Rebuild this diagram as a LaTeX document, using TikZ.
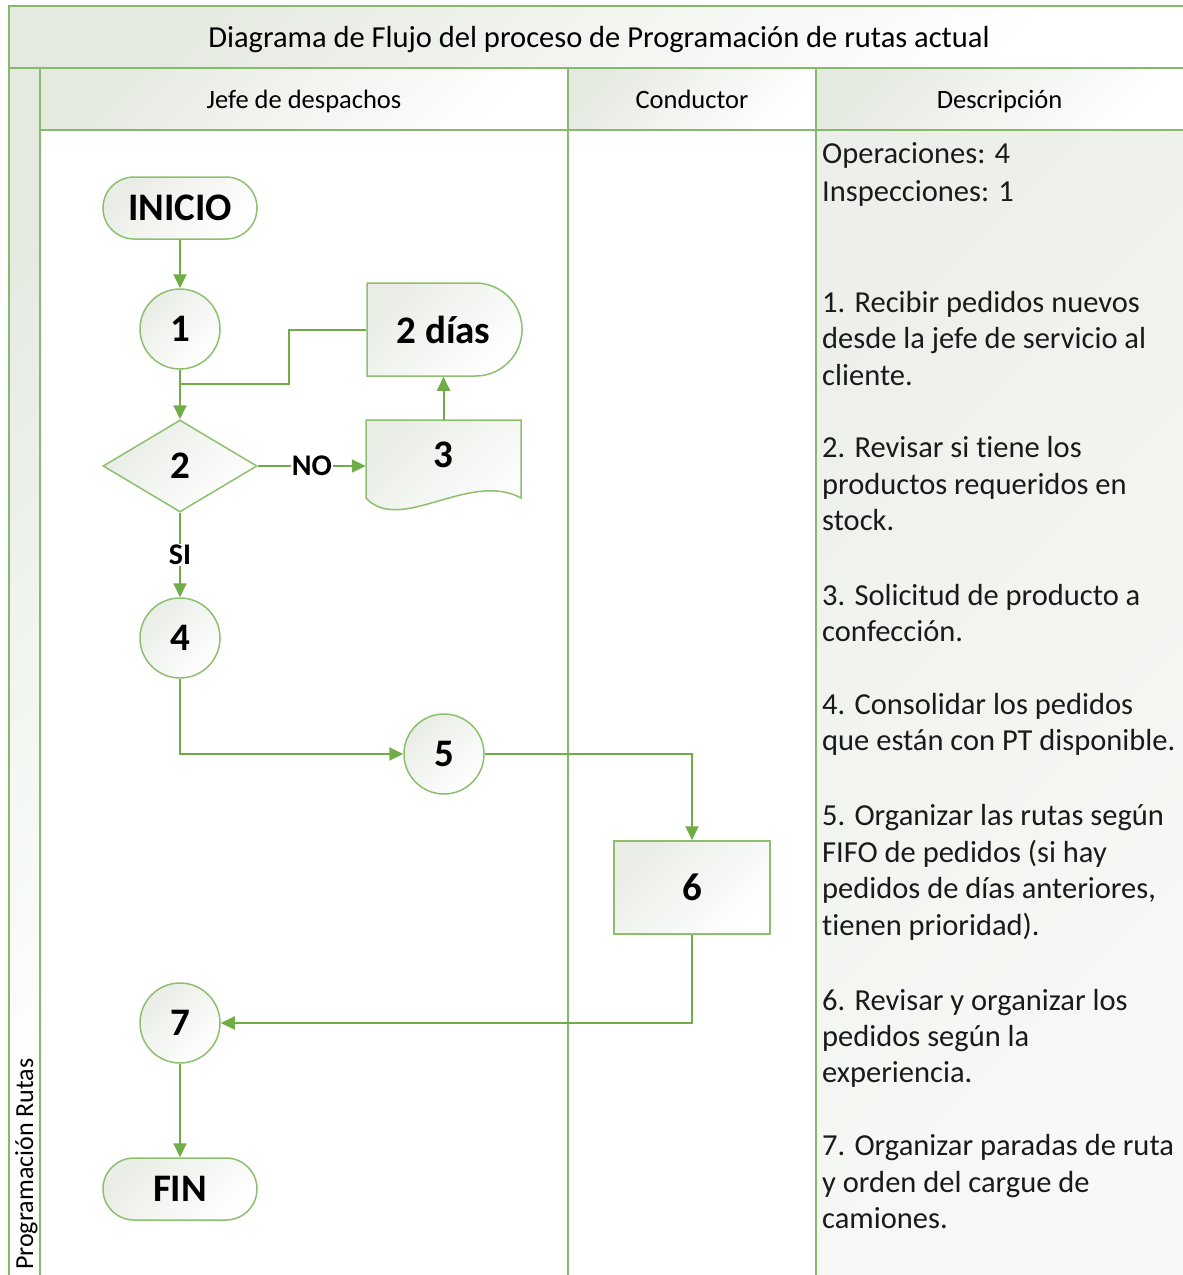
\documentclass[tikz,border=0pt]{standalone}
\usepackage{fontspec}
\setmainfont{Carlito}[Ligatures=NoCommon]
\usetikzlibrary{arrows.meta,shapes.geometric,shapes.misc}
\definecolor{laneline}{HTML}{86B96A}
\definecolor{conn}{HTML}{70AD47}
\definecolor{shp}{HTML}{8DC06E}
\definecolor{gfill}{HTML}{E5EAE1}
\definecolor{sfill}{HTML}{E9EDE6}
\definecolor{dfill}{HTML}{EDF0EA}
\definecolor{dtext}{HTML}{1A1A1A}
\begin{document}
\begin{tikzpicture}[x=1pt,y=-1pt,
  frame/.style={draw=laneline, line width=2pt},
  grad/.style={top color=gfill, bottom color=white, shading angle=45},
  shapebase/.style={draw=shp, line width=1.5pt, top color=sfill, bottom color=white, shading angle=45,
    font=\bfseries\fontsize{39}{42}\selectfont, text=black, inner sep=0pt},
  term/.style={shapebase, rounded rectangle, minimum width=154pt, minimum height=62pt},
  circ/.style={shapebase, circle, minimum size=80pt},
  dia/.style={shapebase, diamond, aspect=1.67, minimum width=154pt, minimum height=92pt},
  delay/.style={shapebase, rounded rectangle, rounded rectangle left arc=none, minimum width=155pt, minimum height=93pt},
  proc/.style={shapebase, rectangle, minimum width=156pt, minimum height=93pt},
  plain/.style={font=\bfseries\fontsize{39}{42}\selectfont, text=black, inner sep=0pt},
  arr/.style={draw=conn, line width=2pt, -{Triangle[length=14pt,width=13pt]}},
  link/.style={draw=conn, line width=2pt},
  lbl/.style={fill=white, inner sep=1pt, font=\bfseries\fontsize{30}{32}\selectfont, text=black},
  hdr/.style={anchor=base, font=\fontsize{26.5}{29}\selectfont, text=black},
  desc/.style={anchor=base west, font=\fontsize{30.5}{34}\selectfont, text=dtext, inner sep=0pt}
]
\useasboundingbox (0,0) rectangle (1183,1275);

% backgrounds
\path[grad] (9,6) rectangle (1183,68);
\path[grad] (40,68) rectangle (568,130);
\path[grad] (568,68) rectangle (816,130);
\path[grad] (816,68) rectangle (1183,130);
\path[grad] (9,68) rectangle (40,1275);
\path[top color=dfill, bottom color=white!60!dfill, shading angle=45] (816,130) rectangle (1183,1275);

% frame lines
\draw[frame] (9,1275) -- (9,6) -- (1183,6);
\draw[frame] (9,68) -- (1183,68);
\draw[frame] (40,68) -- (40,1275);
\draw[frame] (40,130) -- (1183,130);
\draw[frame] (568,68) -- (568,1275);
\draw[frame] (816,68) -- (816,1275);

% titles
\node[hdr, font=\fontsize{30.5}{33}\selectfont] (title) at (599,47) {Diagrama de Flujo del proceso de Programación de rutas actual};
\node[hdr] (h1) at (304,108) {Jefe de despachos};
\node[hdr] (h2) at (692,108) {Conductor};
\node[hdr] (h3) at (999.5,108) {Descripción};
\node[rotate=90, anchor=base west, font=\fontsize{26}{28}\selectfont, text=black, inner sep=0pt] (lane) at (33,1270) {Programación Rutas};

% document shape outline (step 3)
\path[shapebase] (366,498) -- (366,420) -- (521,420) -- (521,498)
  .. controls (470,470) and (400,535) .. (366,498) -- cycle;

% nodes
\node[term] (inicio) at (180,208) {INICIO};
\node[circ] (n1) at (180,329) {1};
\node[dia] (n2) at (180,466) {2};
\node[delay] (dly) at (443.5,329.5) {2 días};
\node[plain, minimum width=155pt, minimum height=70pt] (n3) at (443.5,455) {3};
\node[circ] (n4) at (180,638) {4};
\node[circ] (n5) at (444,754) {5};
\node[proc] (n6) at (692,887.5) {6};
\node[circ] (n7) at (180,1023) {7};
\node[term] (fin) at (180,1189) {FIN};

% connectors
\coordinate (bend) at (289,384);
\draw[arr] (inicio) -- (n1);
\draw[arr] (n1) -- (n2);
\draw[link] (dly.west) -| (bend) -- (bend -| n1);
\draw[arr] (n2.east) -- node[lbl] {NO} (n2.east -| n3.west);
\draw[arr] (n3.north |- 0,420) -- (dly.south);
\draw[arr] (n2) -- node[lbl] {SI} (n4);
\draw[arr] (n4) |- (n5);
\draw[arr] (n5) -| (n6);
\draw[arr] (n6) |- (n7);
\draw[arr] (n7) -- (fin);

% description
\foreach \yy/\txt [count=\i] in {
  163/{Operaciones: 4},
  201/{Inspecciones: 1},
  312/{1. Recibir pedidos nuevos},
  348/{desde la jefe de servicio al},
  385/{cliente.},
  457/{2. Revisar si tiene los},
  494/{productos requeridos en},
  530/{stock.},
  605/{3. Solicitud de producto a},
  641/{confección.},
  714/{4. Consolidar los pedidos},
  750/{que están con PT disponible.},
  825/{5. Organizar las rutas según},
  862/{FIFO de pedidos (si hay},
  898/{pedidos de días anteriores,},
  935/{tienen prioridad).},
  1010/{6. Revisar y organizar los},
  1046/{pedidos según la},
  1082/{experiencia.},
  1155/{7. Organizar paradas de ruta},
  1192/{y orden del cargue de},
  1228/{camiones.}}
  \node[desc] (d\i) at (822,\yy) {\txt};
\end{tikzpicture}
\end{document}
